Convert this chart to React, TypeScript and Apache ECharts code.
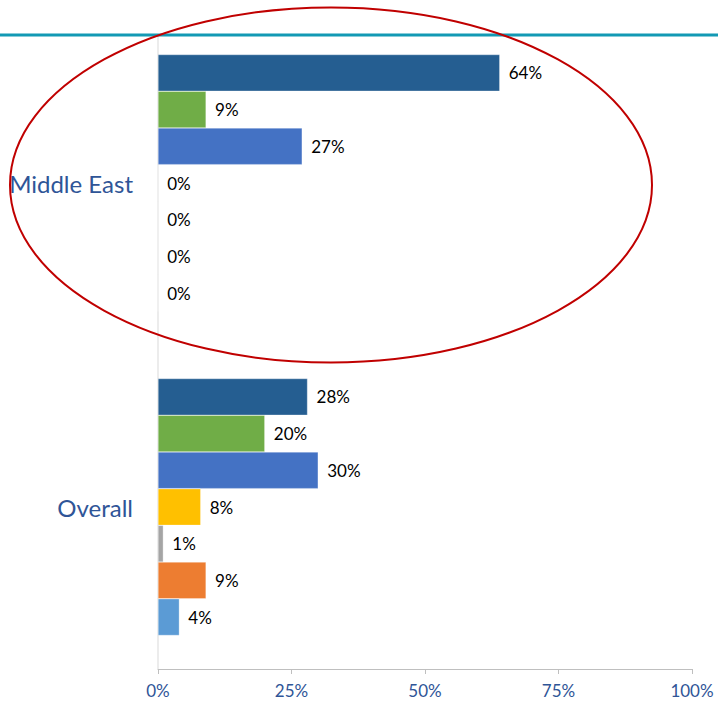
import React, { useEffect, useRef } from "react";
import * as echarts from "echarts";

const categories = ["Middle East", "Overall"];
const seriesNames = ["Response 1", "Response 2", "Response 3", "Response 4", "Response 5", "Response 6", "Response 7"];
const seriesColors = ["#255E91", "#70AD47", "#4472C4", "#FFC000", "#A5A5A5", "#ED7D31", "#5B9BD5"];
const middleEast = [64, 9, 27, 0, 0, 0, 0];
const overall = [28, 20, 30, 8, 1, 9, 4];
const xTicks = [0, 25, 50, 75, 100];

export default function App() {
  const ref = useRef<HTMLDivElement>(null);
  useEffect(() => {
    const chart = echarts.init(ref.current!, null, { renderer: "svg" });
    const font = "Lato, 'Open Sans', sans-serif";
    chart.setOption({
      animation: false,
      backgroundColor: "#ffffff",
      grid: { left: 158, right: 26, top: 21, bottom: 42, containLabel: false },
      xAxis: {
        type: "value",
        min: xTicks[0],
        max: xTicks[xTicks.length - 1],
        interval: 25,
        axisLine: { show: true, lineStyle: { color: "#BFBFBF", width: 1 } },
        axisTick: { show: true, length: 5, lineStyle: { color: "#BFBFBF" } },
        splitLine: { show: false },
        axisLabel: {
          formatter: "{value}%",
          color: "#2F5597",
          fontSize: 17,
          fontFamily: font,
          margin: 13,
        },
      },
      yAxis: {
        type: "category",
        data: categories,
        inverse: true,
        axisLine: { show: false },
        axisTick: { show: false },
        axisLabel: { color: "#2F5597", fontSize: 24, fontFamily: font, margin: 25 },
      },
      graphic: [
        { type: "line", shape: { x1: 158, y1: 37, x2: 158, y2: 669 }, style: { stroke: "#D9D9D9", lineWidth: 1 }, z: 0 },
        { type: "line", shape: { x1: 0, y1: 35, x2: 718, y2: 35 }, style: { stroke: "#1399B4", lineWidth: 3 }, z: 10 },
        {
          type: "ellipse",
          shape: { cx: 331, cy: 185, rx: 321, ry: 177.5 },
          style: { fill: "none", stroke: "#C00000", lineWidth: 2 },
          z: 20,
        },
      ],
      series: seriesNames.map((name, i) => ({
        name,
        type: "bar",
        data: [middleEast[i], overall[i]],
        barGap: "0%",
        barCategoryGap: "20.7%",
        itemStyle: { color: seriesColors[i], borderColor: "rgba(255,255,255,0.6)", borderWidth: 0.5 },
        label: {
          show: true,
          position: "right",
          distance: 9,
          formatter: "{c}%",
          color: "#000000",
          fontSize: 17,
          fontFamily: font,
        },
      })),
    });
    return () => chart.dispose();
  }, []);
  return (
    <div
      ref={ref}
      style={{ position: "absolute", left: 0, top: 0, width: 718, height: 711 }}
    />
  );
}
